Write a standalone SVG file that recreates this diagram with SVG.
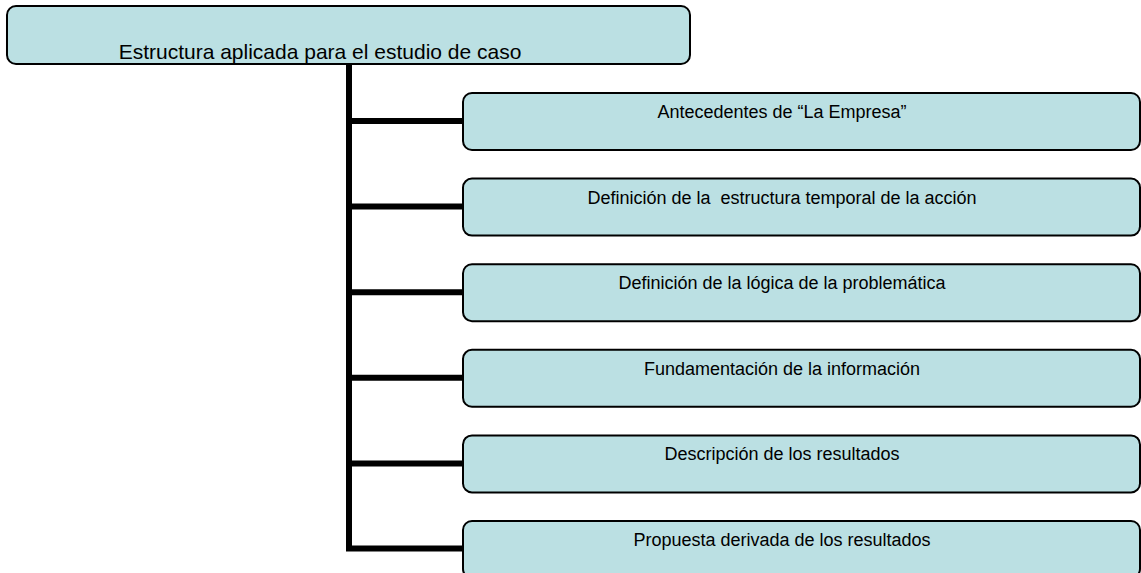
<svg xmlns="http://www.w3.org/2000/svg" width="1141" height="573" viewBox="0 0 1141 573">
<style>
.box{fill:#BBE0E3;stroke:#000;stroke-width:2}
.lbl{font-family:"Liberation Sans",Arial,sans-serif;font-size:18px;fill:#000;text-anchor:middle}
.con{fill:none;stroke:#000;stroke-width:6;stroke-linejoin:miter;stroke-linecap:butt}
</style>
<rect x="0" y="0" width="1141" height="573" fill="#fff"/>
<g id="connectors">
<path class="con" d="M349,64 V548.5 H463"/>
<path class="con" d="M346,121 H463"/>
<path class="con" d="M346,206.6 H463"/>
<path class="con" d="M346,292.2 H463"/>
<path class="con" d="M346,377.8 H463"/>
<path class="con" d="M346,463.4 H463"/>
</g>
<g id="root">
<rect class="box" x="7" y="6" width="683" height="58" rx="9"/>
<text class="lbl" x="320" y="59" style="font-size:21px">Estructura aplicada para el estudio de caso</text>
</g>
<g id="n1">
<rect class="box" x="463" y="93" width="677" height="57" rx="9"/>
<text class="lbl" x="782" y="118">Antecedentes de “La Empresa”</text>
</g>
<g id="n2">
<rect class="box" x="463" y="178.6" width="677" height="57" rx="9"/>
<text class="lbl" x="782" y="203.6" xml:space="preserve">Definición de la  estructura temporal de la acción</text>
</g>
<g id="n3">
<rect class="box" x="463" y="264.2" width="677" height="57" rx="9"/>
<text class="lbl" x="782" y="289.2">Definición de la lógica de la problemática</text>
</g>
<g id="n4">
<rect class="box" x="463" y="349.8" width="677" height="57" rx="9"/>
<text class="lbl" x="782" y="374.8">Fundamentación de la información</text>
</g>
<g id="n5">
<rect class="box" x="463" y="435.4" width="677" height="57" rx="9"/>
<text class="lbl" x="782" y="460.4">Descripción de los resultados</text>
</g>
<g id="n6">
<rect class="box" x="463" y="521" width="677" height="57" rx="9"/>
<text class="lbl" x="782" y="546">Propuesta derivada de los resultados</text>
</g>
</svg>
